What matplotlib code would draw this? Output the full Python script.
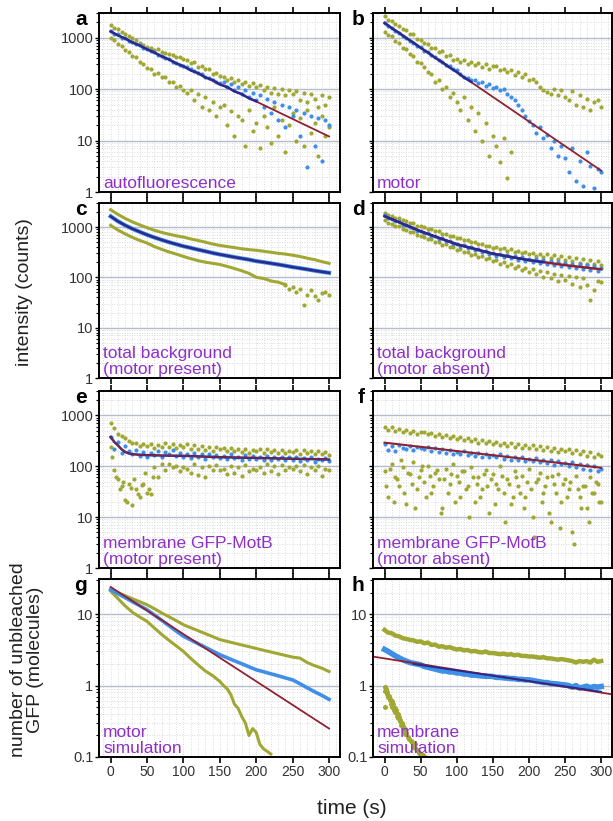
import matplotlib.pyplot as plt
from matplotlib.ticker import LogLocator, MultipleLocator, NullFormatter
import numpy as np

plt.rcParams['font.family'] = ['Liberation Sans', 'DejaVu Sans']

OLIVE = '#a0a733'
BLUE = '#3f8fe8'
NAVY = '#2a2a8e'
RED = '#8e2233'
PURPLE = '#8e30c8'

# --- a: autofluorescence (5 s sampling) ---
a_up = [1750, 1560, 1450, 1300, 1150, 1080, 960, 880, 800, 720, 660,
        640, 580, 590, 520, 510, 470, 460, 420, 420, 390,
        370, 320, 330, 270, 280, 240, 240, 200, 205, 180,
        175, 150, 165, 140, 150, 125, 140, 115, 130, 110,
        120, 95, 110, 85, 105, 80, 100, 75, 95, 80,
        90, 60, 85, 55, 80, 65, 45, 75, 50, 70]
a_lo = [1000, 900, 760, 690, 580, 530, 440, 410, 340, 310, 260,
        245, 200, 205, 170, 170, 140, 140, 110, 115, 95,
        85, 95, 60, 80, 45, 70, 40, 55, 30, 44,
        50, 20, 38, 12, 30, 25, 8, 40, 15, 22,
        7, 30, 18, 9, 45, 12, 25, 6, 20, 35,
        10, 28, 8, 40, 14, 22, 5, 30, 12, 18]
a_blue = [1350, 1180, 1150, 1000, 960, 860, 830, 740, 710, 630, 600,
          540, 520, 460, 445, 395, 380, 335, 325, 290, 280,
          265, 240, 225, 205, 195, 175, 165, 150, 140, 130,
          140, 110, 125, 95, 110, 80, 95, 70, 85, 60,
          75, 45, 65, 35, 55, 25, 50, 18, 45, 30,
          40, 12, 35, 3, 30, 8, 28, 4, 25, 20]
a_mean = [1320, 1100, 960, 800, 700, 590, 515, 430, 378, 315, 278,
          230, 205, 168, 150, 122, 110, 90, 80, 66, 58]  # 10 s
a_fit = [1300, 12]

# --- b: motor ---
b_up = [2600, 2200, 2100, 1800, 1700, 1450, 1400, 1150, 1150, 950, 900,
        780, 760, 640, 640, 530, 540, 440, 450, 370, 380,
        340, 370, 300, 340, 290, 320, 270, 300, 250, 280,
        280, 230, 250, 210, 230, 190, 210, 170, 195, 150,
        160, 140, 110, 95, 87, 80, 100, 75, 95, 70,
        60, 90, 50, 75, 45, 65, 40, 55, 60, 45]
b_lo = [1300, 1100, 1050, 850, 800, 640, 590, 470, 440, 340, 320,
        270, 210, 200, 140, 150, 100, 110, 70, 85, 55,
        40, 70, 25, 45, 15, 35, 10, 22, 5, 12,
        8, 3.8, 11, 1.9, 6]
b_blue = [1950, 1650, 1550, 1330, 1250, 1070, 1000, 860, 800, 700, 650,
          560, 520, 450, 420, 360, 340, 290, 275, 250, 230,
          200, 175, 165, 150, 150, 130, 140, 115, 125, 105,
          110, 95, 100, 80, 70, 60, 50, 40, 30, 24,
          20, 14, 18, 11, 13, 7, 10, 5, 8, 4.5,
          2.5, 7, 1.6, 4, 1.3, 6, 3.2, 1.2, 2.8, 2.4]
b_mean = [1930, 1520, 1240, 980, 800, 630, 515, 405, 333, 262, 215, 168, 138]
b_fit = [1900, 2.6]

# --- c: total background, motor present (10 s) ---
c_up = [2200, 1780, 1480, 1260, 1100, 970, 860, 780, 720, 670, 630,
        580, 540, 500, 460, 430, 410, 390, 370, 355, 345,
        330, 315, 300, 290, 275, 260, 240, 225, 205, 190]
c_mean = [1630, 1300, 1080, 920, 800, 700, 620, 555, 500, 455, 415,
          385, 355, 330, 305, 285, 268, 252, 238, 225, 210,
          200, 190, 180, 170, 160, 152, 144, 136, 129, 123]
c_lo = [1080, 870, 730, 620, 540, 480, 410, 360, 320, 290, 260,
        235, 215, 200, 190, 180, 165, 150, 135, 120, 100,
        95, 85, 80, 72]
c_lo_tail = [72, 60, 65, 50, 58, 28, 45, 55, 42, 35, 48, 52, 45]  # from 240 s, 5 s

# --- d: total background, motor absent ---
d_up = [1900, 1700, 1680, 1500, 1500, 1350, 1330, 1200, 1190, 1070, 1060,
        1010, 920, 910, 820, 820, 740, 740, 660, 670, 610,
        610, 550, 560, 500, 510, 455, 470, 415, 425, 390,
        400, 360, 380, 335, 360, 315, 340, 300, 320, 285,
        305, 270, 295, 255, 285, 245, 275, 230, 265, 225,
        250, 210, 240, 195, 235, 185, 225, 180, 210, 175]
d_lo = [1350, 1180, 1170, 1030, 1030, 900, 890, 780, 780, 690, 670,
        640, 565, 570, 500, 505, 445, 450, 395, 400, 355,
        360, 315, 325, 280, 295, 255, 265, 230, 240, 210,
        220, 185, 200, 170, 180, 150, 165, 140, 155, 130,
        145, 115, 135, 100, 125, 95, 115, 85, 110, 90,
        105, 75, 100, 65, 95, 70, 35, 55, 85, 80]
d_blue = [1700, 1480, 1470, 1290, 1290, 1120, 1120, 980, 975, 850, 850,
          750, 755, 665, 670, 590, 595, 525, 530, 465, 470,
          420, 430, 385, 400, 350, 365, 320, 340, 295, 310,
          270, 290, 255, 275, 240, 265, 225, 250, 210, 235,
          200, 230, 190, 220, 180, 210, 175, 200, 165, 195,
          160, 185, 150, 180, 145, 175, 140, 165, 135, 150]
d_mean = [1640, 1430, 1245, 1085, 945, 820, 730, 648, 576, 512, 455,
          417, 383, 351, 322, 295, 278, 262, 247, 233, 220,
          210, 201, 192, 183, 175, 168, 162, 156, 150, 145]

# --- e: membrane GFP-MotB, motor present ---
e_up = [690, 560, 435, 390, 350, 310, 280, 290, 250, 275, 245,
        270, 230, 265, 240, 280, 235, 270, 225, 260, 240,
        275, 220, 255, 215, 245, 210, 240, 200, 235, 215,
        230, 195, 225, 200, 220, 190, 215, 185, 210, 200,
        220, 185, 215, 190, 210, 180, 205, 185, 200, 190,
        210, 175, 205, 180, 200, 170, 195, 175, 190, 165]
e_lo = [240, 84, 55, 40, 22, 45, 17, 35, 25, 45, 30,
        28, 97, 60, 110, 85, 112, 95, 100, 80, 97,
        90, 75, 110, 67, 95, 60, 100, 85, 105, 83,
        90, 70, 100, 75, 95, 65, 105, 80, 90, 85,
        95, 75, 110, 80, 100, 70, 105, 85, 95, 90,
        100, 80, 105, 70, 95, 85, 100, 65, 90, 83]
e_lo_early = [150, 60, 35, 50, 20, 38, 55, 28, 42, 75, 35, 60]  # from 2.5 s
e_blue = [380, 220, 300, 180, 250, 200, 175, 210, 160, 190, 150,
          185, 165, 200, 155, 190, 170, 210, 160, 180, 150,
          175, 145, 180, 150, 170, 140, 175, 150, 165, 145,
          160, 140, 170, 145, 155, 135, 165, 140, 160, 140,
          155, 135, 160, 130, 150, 140, 155, 130, 150, 135,
          150, 125, 145, 130, 150, 120, 140, 130, 145, 125]
e_mean = [375, 300, 256, 215, 190, 178, 172, 170, 168, 166, 165,
          164, 163, 163, 162, 162, 161, 161, 160, 160, 160,
          159, 158, 157, 156, 155, 154, 153, 152, 151, 150,
          150, 149, 149, 148, 148, 147, 147, 146, 146, 145,
          145, 144, 144, 143, 143, 142, 142, 141, 141, 140,
          140, 139, 139, 138, 138, 137, 137, 136, 136, 135]

# --- f: membrane GFP-MotB, motor absent ---
f_up = [600, 520, 580, 490, 550, 470, 520, 450, 500, 430, 470,
        480, 420, 450, 390, 430, 370, 410, 350, 390, 340,
        380, 330, 360, 310, 340, 290, 320, 280, 310, 270,
        300, 260, 290, 250, 280, 240, 270, 230, 260, 230,
        265, 220, 250, 205, 240, 195, 230, 190, 220, 200,
        215, 180, 210, 170, 200, 160, 190, 150, 175, 160]
f_blue = [270, 210, 250, 200, 260, 230, 215, 250, 205, 240, 225,
          215, 240, 200, 225, 190, 215, 180, 205, 175, 190,
          170, 195, 165, 185, 160, 180, 150, 175, 155, 165,
          150, 170, 140, 160, 135, 155, 130, 150, 125, 140,
          125, 145, 120, 135, 115, 130, 105, 125, 110, 115,
          100, 120, 95, 110, 90, 105, 85, 100, 80, 90]
f_lo_a = [80, 25, 110, 60, 40, 95, 18, 70, 120, 35, 85,
          50, 100, 30, 75, 55, 15, 90, 45, 110, 65,
          25, 80, 40, 95, 20, 60, 35, 85, 12, 70,
          45, 100, 30, 55, 18, 80, 40, 65, 25, 90,
          10, 50, 75, 30, 60, 8, 45, 70, 20, 55,
          35, 5, 65, 25, 40, 15, 60, 30, 45, 20]
f_lo_b = [40, 90, 20, 55, 130, 30, 75, 45, 15, 60,
          100, 25, 65, 40, 85, 12, 55, 30, 70, 20,
          50, 80, 35, 10, 60, 45, 25, 70, 40, 55,
          18, 35, 65, 8, 45, 25, 60, 30, 15, 50,
          35, 4, 55, 20, 40, 12, 65, 30, 6, 45,
          25, 50, 3, 35, 15, 40, 8, 30, 50, 20]  # from 2.5 s
f_fit = [290, 93]

# --- g: motor simulation (10 s) ---
g_up = [22, 19.9, 18.1, 16.4, 14.9, 13.5, 11.9, 10.4, 9.2, 8.1, 7.1,
        6.45, 5.87, 5.33, 4.85, 4.4, 4.15, 3.92, 3.7, 3.5, 3.3,
        3.12, 2.95, 2.79, 2.64, 2.5, 2.42, 2.1, 1.9, 1.75, 1.57]
g_blue = [22, 19.3, 17, 14.9, 13.1, 11.5, 9.7, 8.2, 6.9, 5.8, 4.9,
          4.35, 3.86, 3.43, 3.04, 2.7, 2.45, 2.22, 2.02, 1.83, 1.66,
          1.56, 1.46, 1.37, 1.28, 1.2, 1.06, 0.93, 0.82, 0.73, 0.64]
g_lo_t = [0, 10, 20, 30, 40, 50, 60, 70, 80, 90, 100, 110, 120, 130, 140, 150,
          155, 160, 165, 170, 175, 180, 185, 190, 195, 200, 205, 210, 215, 220]
g_lo = [21, 16.5, 13, 10.6, 9.1, 7.9, 6.4, 5.2, 4.3, 3.6, 3.0, 2.4, 1.95, 1.6, 1.38, 1.14,
        1.0, 0.9, 0.75, 0.55, 0.48, 0.37, 0.3, 0.2, 0.25, 0.22, 0.15, 0.13, 0.12, 0.11]
g_fit = [24, 0.25]

# --- h: membrane simulation ---
h_up = [6.0, 5.5, 5.4, 5.0, 4.9, 4.6, 4.5, 4.35, 4.3, 4.1, 4.15,
        3.9, 4.0, 3.7, 3.75, 3.5, 3.55, 3.4, 3.45, 3.3, 3.2,
        3.25, 3.1, 3.15, 3.0, 3.05, 2.95, 2.9, 3.0, 2.85, 2.85,
        2.8, 2.75, 2.8, 2.7, 2.75, 2.65, 2.7, 2.6, 2.6, 2.55,
        2.55, 2.5, 2.45, 2.5, 2.4, 2.4, 2.35, 2.3, 2.35, 2.3,
        2.25, 2.2, 2.1, 2.2, 2.15, 2.2, 2.1, 2.3, 2.15, 2.2]
h_blue = [3.2, 3.0, 2.8, 2.6, 2.45, 2.3, 2.2, 2.1, 2.05, 2.0, 1.95,
          1.85, 1.8, 1.75, 1.7, 1.65, 1.6, 1.6, 1.55, 1.55, 1.5,
          1.5, 1.45, 1.45, 1.4, 1.4, 1.38, 1.36, 1.35, 1.35, 1.34,
          1.3, 1.3, 1.28, 1.27, 1.25, 1.25, 1.22, 1.22, 1.2, 1.2,
          1.18, 1.15, 1.13, 1.1, 1.1, 1.07, 1.06, 1.05, 1.03, 1.02,
          1.0, 0.95, 1.0, 0.92, 0.95, 0.98, 0.93, 0.97, 0.95, 0.97]
h_lo_t = [0, 0, 1, 2, 3, 4, 5, 6, 7, 8, 9, 10, 11, 12, 13, 14, 15, 16, 17, 18, 19, 20,
          21, 22, 23, 24, 25, 26, 27, 28, 29, 30, 32, 34, 36, 38, 40, 42, 44, 46, 48, 50, 53, 56]
h_lo = [0.5, 0.95, 0.85, 0.9, 0.75, 0.8, 0.7, 0.72, 0.62, 0.65,
        0.55, 0.6, 0.5, 0.55, 0.45, 0.48, 0.42, 0.45, 0.38, 0.4,
        0.35, 0.36, 0.32, 0.33, 0.28, 0.3, 0.26, 0.27, 0.23, 0.25,
        0.21, 0.22, 0.19, 0.18, 0.17, 0.16, 0.14, 0.15, 0.13, 0.12,
        0.115, 0.11, 0.105, 0.1]
h_fit_t = [-20, 320]
h_fit = [2.58, 0.74]
h_mean_t = [40, 300]
h_mean = [2.0, 0.82]

labels = {
    'a': 'autofluorescence',
    'b': 'motor',
    'c': 'total background\n(motor present)',
    'd': 'total background\n(motor absent)',
    'e': 'membrane GFP-MotB\n(motor present)',
    'f': 'membrane GFP-MotB\n(motor absent)',
    'g': 'motor\nsimulation',
    'h': 'membrane\nsimulation',
}


def times(vals, step=5, t0=0.0):
    return t0 + step * np.arange(len(vals))


def dots(ax, vals, color, step=5, t0=0.0, ms=3.0):
    ax.plot(times(vals, step, t0), vals, 'o', ms=ms, mew=0, color=color)


W, H = 613, 821
col_left = [99, 373]
col_width = [241, 239]
rows = [(13, 192), (203, 378), (391, 568), (579, 757)]

fig = plt.figure(figsize=(W / 100, H / 100), dpi=100)
axes = {}
for r, (top, bot) in enumerate(rows):
    for c in range(2):
        key = 'abcdefgh'[2 * r + c]
        axes[key] = fig.add_axes([col_left[c] / W, 1 - bot / H,
                                  col_width[c] / W, (bot - top) / H])


def style(ax, key):
    ax.set_yscale('log')
    if key in 'gh':
        ax.set_ylim(0.1, 31)
        ticks, ticklabels = [0.1, 1, 10], ['0.1', '1', '10']
    else:
        ax.set_ylim(1, 3000)
        ticks, ticklabels = [1, 10, 100, 1000], ['1', '10', '100', '1000']
    ax.set_xlim(-16, 315)
    ax.set_yticks(ticks)
    ax.set_yticklabels(ticklabels if key in 'acegh' else [])
    ax.yaxis.set_minor_locator(LogLocator(base=10, subs=np.arange(2, 10)))
    ax.yaxis.set_minor_formatter(NullFormatter())
    ax.xaxis.set_major_locator(MultipleLocator(50))
    ax.xaxis.set_minor_locator(MultipleLocator(10))
    ax.tick_params(axis='x', which='major', top=True, bottom=True, direction='out',
                   length=4, width=1.2, labelbottom=key in 'gh', labelsize=10,
                   labelcolor='#333333', pad=2)
    ax.tick_params(axis='x', which='minor', length=0)
    ax.tick_params(axis='y', which='major', direction='out', length=3, width=1,
                   labelsize=10.5, labelcolor='#333333', pad=1)
    ax.tick_params(axis='y', which='minor', direction='out', length=2, width=0.8)
    ax.grid(True, which='minor', axis='both', color='#d0d0d0', lw=0.6, ls=(0, (1, 2)))
    ax.grid(True, which='major', axis='x', color='#d0d0d0', lw=0.6, ls=(0, (1, 2)))
    ax.grid(True, which='major', axis='y', color='#b5bccb', lw=1.0, ls='-')
    ax.set_axisbelow(True)
    for s in ax.spines.values():
        s.set_linewidth(1.4)
    lx = -0.05 if key in 'aceg' else -0.035
    ax.text(lx, 1.015, key, transform=ax.transAxes, ha='right', va='top',
            fontsize=15, fontweight='bold')
    ax.text(0.017, 0.005, labels[key], transform=ax.transAxes, ha='left', va='bottom',
            color=PURPLE, fontsize=12.5, linespacing=1.12)


# a
ax = axes['a']
dots(ax, a_up, OLIVE)
dots(ax, a_lo, OLIVE)
dots(ax, a_blue, BLUE)
ax.plot([0, 300], a_fit, color=RED, lw=1.3)
ax.plot(times(a_mean, 10), a_mean, color=NAVY, lw=1.8)

# b
ax = axes['b']
dots(ax, b_up, OLIVE)
dots(ax, b_lo, OLIVE)
dots(ax, b_blue, BLUE)
ax.plot([0, 300], b_fit, color=RED, lw=1.3)
ax.plot(times(b_mean, 10), b_mean, color=NAVY, lw=1.8)

# c
ax = axes['c']
ax.plot(times(c_up, 10), c_up, color=OLIVE, lw=2.2)
ax.plot(times(c_lo, 10), c_lo, color=OLIVE, lw=2.2)
dots(ax, c_lo_tail, OLIVE, t0=240)
ax.plot(times(c_mean, 10), c_mean, color=BLUE, lw=3.0)
ax.plot(times(c_mean, 10), c_mean, color=NAVY, lw=1.8)

# d
ax = axes['d']
dots(ax, d_up, OLIVE)
dots(ax, d_lo, OLIVE)
dots(ax, d_blue, BLUE)
ax.plot(times(d_mean, 10), d_mean, color=RED, lw=1.8)
ax.plot(times(d_mean[:23], 10), d_mean[:23], color=NAVY, lw=1.8)

# e
ax = axes['e']
dots(ax, e_up, OLIVE)
dots(ax, e_lo, OLIVE)
dots(ax, e_lo_early, OLIVE, t0=2.5)
dots(ax, e_blue, BLUE)
ax.plot(times(e_mean), e_mean, color=NAVY, lw=1.8)
ax.plot(times(e_mean), e_mean, color=RED, lw=0.9)

# f
ax = axes['f']
dots(ax, f_lo_a, OLIVE)
dots(ax, f_lo_b, OLIVE, t0=2.5)
dots(ax, f_up, OLIVE)
dots(ax, f_blue, BLUE)
ax.plot([0, 300], f_fit, color=RED, lw=1.5)

# g
ax = axes['g']
ax.plot(times(g_up, 10), g_up, color=OLIVE, lw=2.2)
ax.plot(g_lo_t, g_lo, color=OLIVE, lw=2.2)
ax.plot(times(g_blue, 10), g_blue, color=BLUE, lw=2.6)
ax.plot([0, 300], g_fit, color=RED, lw=1.3)

# h
ax = axes['h']
ax.plot(times(h_up), h_up, color=OLIVE, lw=3.2)
ax.plot(times(h_blue), h_blue, color=BLUE, lw=4)
ax.plot(h_lo_t, h_lo, 'o', ms=3.6, mew=0, color=OLIVE)
ax.plot(h_fit_t, h_fit, color=RED, lw=1.3)
ax.plot(h_mean_t, h_mean, color=NAVY, lw=1.3)

for key, ax in axes.items():
    style(ax, key)

fig.text(25 / W, 1 - 292 / H, 'intensity (counts)', rotation=90, ha='center',
         va='center', fontsize=14, color='#222222')
fig.text(27 / W, 1 - 660 / H, 'number of unbleached\nGFP (molecules)', rotation=90,
         ha='center', va='center', fontsize=14, color='#222222', linespacing=1.0)
fig.text(352 / W, 1 - 808 / H, 'time (s)', ha='center', va='center', fontsize=15,
         color='#222222')

fig.savefig('out.png', dpi=100)
